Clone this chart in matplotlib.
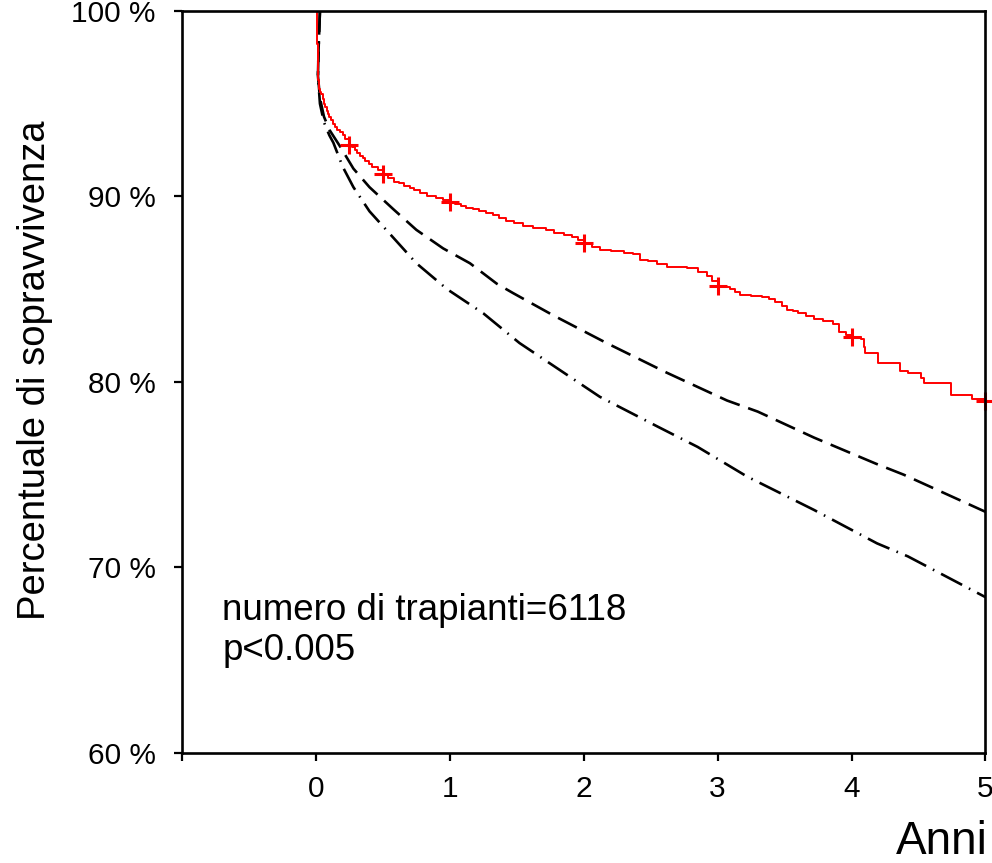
import matplotlib
matplotlib.use('Agg')
import matplotlib.pyplot as plt

plt.rcParams['font.family'] = ['Liberation Sans', 'DejaVu Sans']

# curva osservata (Kaplan-Meier), anni / percentuale
km_t = [0.005, 0.005, 0.015, 0.02, 0.025, 0.03, 0.04, 0.05, 0.06, 0.07, 0.08,
        0.09, 0.1, 0.115, 0.13, 0.145, 0.16, 0.18, 0.2, 0.22, 0.25, 0.27, 0.29,
        0.31, 0.33, 0.35, 0.37, 0.395, 0.42, 0.46, 0.5, 0.54, 0.58, 0.62, 0.66,
        0.7, 0.73, 0.78, 0.83, 0.9, 0.95, 1.0, 1.04, 1.08, 1.12, 1.17, 1.22,
        1.27, 1.32, 1.37, 1.42, 1.48, 1.55, 1.62, 1.72, 1.78, 1.85, 1.91, 1.96,
        2.0, 2.06, 2.12, 2.2, 2.3, 2.37, 2.42, 2.48, 2.55, 2.62, 2.77, 2.85,
        2.92, 2.96, 3.0, 3.05, 3.09, 3.13, 3.17, 3.25, 3.33, 3.38, 3.43, 3.48,
        3.52, 3.56, 3.6, 3.66, 3.72, 3.79, 3.86, 3.91, 3.96, 4.0, 4.07, 4.09,
        4.1, 4.18, 4.2, 4.31, 4.36, 4.42, 4.5, 4.52, 4.54, 4.72, 4.74, 4.87,
        4.9, 5.0]
km_s = [100, 98.2, 96.3, 96.0, 95.8, 95.65, 95.5, 95.25, 95.0, 94.8, 94.6,
        94.45, 94.3, 94.1, 93.9, 93.75, 93.6, 93.45, 93.3, 93.1, 92.8, 92.65, 92.5,
        92.35, 92.2, 92.05, 91.9, 91.75, 91.6, 91.4, 91.2, 91.0, 90.8, 90.7, 90.55,
        90.45, 90.35, 90.2, 90.0, 89.9, 89.8, 89.7, 89.6, 89.5, 89.4, 89.3, 89.2,
        89.1, 89.0, 88.85, 88.7, 88.55, 88.4, 88.3, 88.2, 88.05, 87.9, 87.8, 87.65,
        87.5, 87.3, 87.1, 87.05, 86.95, 86.9, 86.6, 86.5, 86.35, 86.2, 86.15, 85.95,
        85.7, 85.45, 85.2, 85.1, 85.0, 84.85, 84.7, 84.65, 84.6, 84.45, 84.3, 84.1,
        83.9, 83.8, 83.7, 83.55, 83.4, 83.3, 83.15, 82.7, 82.55, 82.4, 82.3, 81.9,
        81.55, 81.55, 81.0, 81.0, 80.6, 80.5, 80.5, 80.2, 79.95, 79.95, 79.3, 79.3,
        79.1, 79.0]

# pazienti censurati
cens_t = [0.25, 0.5, 1, 2, 3, 4, 5]
cens_s = [92.8, 91.2, 89.7, 87.5, 85.2, 82.4, 79.0]

# curve attese
exp1_t = [0.03, 0.02, 0.015, 0.03, 0.06, 0.1, 0.18, 0.28, 0.4, 0.58, 0.75,
          0.95, 1.15, 1.35, 1.47, 1.77, 2.17, 2.62, 3.07, 3.3, 3.72, 4.18,
          4.39, 5.0]
exp1_s = [100, 98, 96.5, 95.3, 94.3, 93.6, 92.7, 91.5, 90.5, 89.3, 88.2,
          87.2, 86.4, 85.3, 84.8, 83.6, 82.1, 80.5, 79.0, 78.4, 77.0, 75.6,
          75.0, 73.0]

exp2_t = [0.03, 0.02, 0.015, 0.03, 0.06, 0.1, 0.13, 0.2, 0.28, 0.4, 0.55,
          0.75, 0.98, 1.25, 1.52, 1.82, 2.12, 2.55, 2.85, 3.22, 3.72, 4.19,
          4.42, 5.0]
exp2_s = [100, 98, 96.5, 95.0, 94.0, 93.3, 92.9, 91.6, 90.5, 89.2, 88.0,
          86.4, 85.0, 83.7, 82.1, 80.65, 79.2, 77.6, 76.5, 74.9, 73.1, 71.3,
          70.6, 68.4]

xticks = [-1, 0, 1, 2, 3, 4, 5]
xlabels = ['', '0', '1', '2', '3', '4', '5']
yticks = [60, 70, 80, 90, 100]
ylabels = ['60 %', '70 %', '80 %', '90 %', '100 %']

fig = plt.figure(figsize=(9.92, 8.63), dpi=100)
ax = fig.add_axes([0.1835, 0.1275, 0.8099, 0.8598])

l1, = ax.plot(exp1_t, exp1_s, color='black', linewidth=1.9)
l1.set_dashes([8.0, 3.4])
l2, = ax.plot(exp2_t, exp2_s, color='black', linewidth=1.9)
l2.set_dashes([9.0, 2.9, 0.6, 2.9])

ax.plot(km_t, km_s, color='red', linewidth=1.4, drawstyle='steps-post')
ax.plot(cens_t, cens_s, linestyle='none', marker='+', markersize=13,
        markeredgewidth=2.2, color='red', clip_on=False)

ax.set_xlim(-1, 5)
ax.set_ylim(60, 100)
ax.set_xticks(xticks)
ax.set_xticklabels(xlabels)
ax.set_yticks(yticks)
ax.set_yticklabels(ylabels)

for s in ax.spines.values():
    s.set_linewidth(1.9)
ax.tick_params(axis='both', direction='out', length=6, width=1.6, labelsize=21.5)
ax.tick_params(axis='y', pad=13)
ax.tick_params(axis='x', pad=10)

ax.set_ylabel('Percentuale di sopravvivenza', fontsize=27.5)
ax.yaxis.set_label_coords(-0.160, 0.516)
ax.set_xlabel('Anni', fontsize=33)
ax.xaxis.set_label_coords(0.946, -0.090)

ax.text(-0.70, 67.17, 'numero di trapianti=6118', fontsize=26.5, va='baseline')
ax.text(-0.70, 65.01, 'p<0.005', fontsize=26.5, va='baseline')

plt.savefig('out.png', dpi=100)
